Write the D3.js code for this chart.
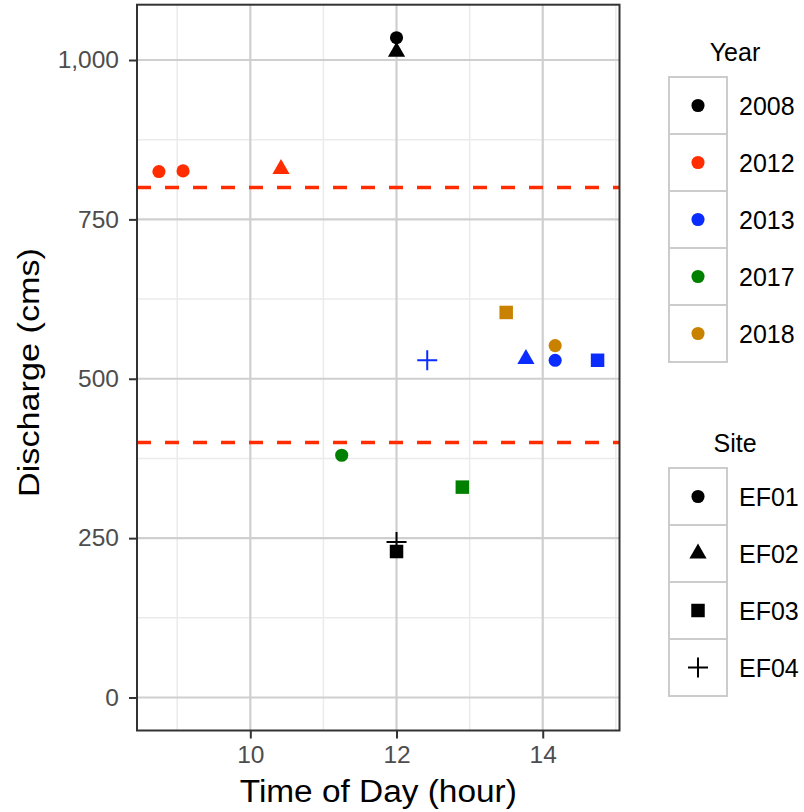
<!DOCTYPE html>
<html>
<head>
<meta charset="utf-8">
<script src="https://cdn.jsdelivr.net/npm/d3@7"></script>
<style>
  body { margin: 0; background: #fff; }
  text { font-family: "Liberation Sans", Arial, sans-serif; }
</style>
</head>
<body>
<svg width="804" height="812"></svg>
<script>
// legend categories
var years = ["2008", "2012", "2013", "2017", "2018"];
var yearColors = ["#000000", "#FF2D00", "#0A2CFF", "#008000", "#C98200"];
var sites = ["EF01", "EF02", "EF03", "EF04"];

// one entry per plotted point
var pointYear = ["2008", "2008", "2008", "2008", "2012", "2012", "2012", "2013", "2013", "2013", "2013", "2017", "2017", "2018", "2018"];
var pointSite = ["EF01", "EF02", "EF03", "EF04", "EF01", "EF01", "EF02", "EF04", "EF02", "EF01", "EF03", "EF01", "EF03", "EF03", "EF01"];
var pointHour = [12.0, 12.0, 12.0, 12.0, 8.75, 9.08, 10.42, 12.42, 13.77, 14.17, 14.75, 11.25, 12.9, 13.5, 14.17];
var pointQ = [1035, 1013, 229, 244, 825, 826, 829, 529, 531, 529, 529, 380, 330, 604, 552];

// reference lines
var hlines = [400, 800];

var xBreaks = [10, 12, 14], xMinor = [9, 11, 13, 15];
var yBreaks = [0, 250, 500, 750, 1000], yMinor = [125, 375, 625, 875];

var points = pointHour.map(function(h, i) {
  return { hour: h, q: pointQ[i], year: pointYear[i], site: pointSite[i] };
});

var svg = d3.select("svg");
var panel = { left: 137, right: 619.5, top: 4.7, bottom: 730.5 };

function expand(ext) {
  var pad = (ext[1] - ext[0]) * 0.05;
  return [ext[0] - pad, ext[1] + pad];
}

var x = d3.scaleLinear()
  .domain(expand(d3.extent(pointHour)))
  .range([panel.left, panel.right]);
var y = d3.scaleLinear()
  .domain(expand([0, d3.max(pointQ)]))
  .range([panel.bottom, panel.top]);

var color = d3.scaleOrdinal().domain(years).range(yearColors);

var plusType = {
  draw: function(ctx, size) {
    var r = Math.sqrt(size) / 2;
    ctx.moveTo(-r, 0); ctx.lineTo(r, 0);
    ctx.moveTo(0, -r); ctx.lineTo(0, r);
  }
};
var shapeType = d3.scaleOrdinal().domain(sites)
  .range([d3.symbolCircle, d3.symbolTriangle, d3.symbolSquare, plusType]);
var shapeSize = d3.scaleOrdinal().domain(sites).range([135, 128, 182, 400]);

function symbolPath(site) {
  return d3.symbol().type(shapeType(site)).size(shapeSize(site))();
}
function styleSymbol(sel, fillOf) {
  sel.attr("d", function(d) { return symbolPath(d.site); })
    .attr("fill", function(d) { return d.site === "EF04" ? "none" : fillOf(d); })
    .attr("stroke", function(d) { return d.site === "EF04" ? fillOf(d) : "none"; })
    .attr("stroke-width", 2);
}

// panel background + grid
svg.append("rect")
  .attr("x", panel.left).attr("y", panel.top)
  .attr("width", panel.right - panel.left).attr("height", panel.bottom - panel.top)
  .attr("fill", "#fff");

var grid = svg.append("g");
grid.selectAll(".xminor").data(xMinor.filter(function(v) { return v <= x.domain()[1]; }))
  .enter().append("line")
  .attr("x1", x).attr("x2", x).attr("y1", panel.top).attr("y2", panel.bottom)
  .attr("stroke", "#EBEBEB").attr("stroke-width", 1.5);
grid.selectAll(".yminor").data(yMinor)
  .enter().append("line")
  .attr("y1", y).attr("y2", y).attr("x1", panel.left).attr("x2", panel.right)
  .attr("stroke", "#EBEBEB").attr("stroke-width", 1.5);
grid.selectAll(".xmajor").data(xBreaks)
  .enter().append("line")
  .attr("x1", x).attr("x2", x).attr("y1", panel.top).attr("y2", panel.bottom)
  .attr("stroke", "#CFCFCF").attr("stroke-width", 2.2);
grid.selectAll(".ymajor").data(yBreaks)
  .enter().append("line")
  .attr("y1", y).attr("y2", y).attr("x1", panel.left).attr("x2", panel.right)
  .attr("stroke", "#CFCFCF").attr("stroke-width", 2.2);

// dashed reference lines
svg.append("g").selectAll("line").data(hlines)
  .enter().append("line")
  .attr("x1", panel.left).attr("x2", panel.right)
  .attr("y1", y).attr("y2", y)
  .attr("stroke", "#FF2D00").attr("stroke-width", 3.5)
  .attr("stroke-dasharray", "14,14");

// points
svg.append("g").selectAll("path").data(points)
  .enter().append("path")
  .attr("transform", function(d) { return "translate(" + x(d.hour) + "," + y(d.q) + ")"; })
  .call(styleSymbol, function(d) { return color(d.year); });

// panel border
svg.append("rect")
  .attr("x", panel.left).attr("y", panel.top)
  .attr("width", panel.right - panel.left).attr("height", panel.bottom - panel.top)
  .attr("fill", "none").attr("stroke", "#333").attr("stroke-width", 2);

// axes
var xAxis = svg.append("g")
  .attr("transform", "translate(0," + panel.bottom + ")")
  .call(d3.axisBottom(x).tickValues(xBreaks).tickSize(8).tickPadding(7).tickFormat(d3.format("d")));
var yAxis = svg.append("g")
  .attr("transform", "translate(" + panel.left + ",0)")
  .call(d3.axisLeft(y).tickValues(yBreaks).tickSize(8).tickPadding(10).tickFormat(d3.format(",")));
[xAxis, yAxis].forEach(function(a) {
  a.select(".domain").remove();
  a.selectAll(".tick line").attr("stroke", "#333").attr("stroke-width", 2);
  a.selectAll(".tick text")
    .attr("fill", "#4D4D4D")
    .style("font-size", "24.5px")
    .style("font-family", "'Liberation Sans', Arial, sans-serif");
});

// axis titles
svg.append("text")
  .attr("x", (panel.left + panel.right) / 2).attr("y", 802)
  .attr("text-anchor", "middle")
  .attr("textLength", 277).attr("lengthAdjust", "spacingAndGlyphs")
  .style("font-size", "31px")
  .text("Time of Day (hour)");
svg.append("text")
  .attr("transform", "translate(39,372.5) rotate(-90)")
  .attr("text-anchor", "middle")
  .attr("textLength", 249).attr("lengthAdjust", "spacingAndGlyphs")
  .style("font-size", "29px")
  .text("Discharge (cms)");

// legends
function legend(title, top, items, fillOf, siteOf) {
  var g = svg.append("g");
  var keyW = 58, keyH = 57, left = 669;
  g.append("text")
    .attr("x", 735).attr("y", top - 16)
    .attr("text-anchor", "middle")
    .style("font-size", "25px")
    .text(title);
  var row = g.selectAll(".row").data(items).enter().append("g")
    .attr("transform", function(d, i) { return "translate(" + left + "," + (top + i * keyH) + ")"; });
  row.append("rect")
    .attr("width", keyW).attr("height", keyH)
    .attr("fill", "#fff").attr("stroke", "#CCCCCC").attr("stroke-width", 2);
  row.append("path")
    .datum(function(d) { return { site: siteOf(d), year: d }; })
    .attr("transform", "translate(" + keyW / 2 + "," + keyH / 2 + ")")
    .call(styleSymbol, function(d) { return fillOf(d.year); });
  row.append("text")
    .attr("x", 70).attr("y", keyH / 2).attr("dy", "0.36em")
    .style("font-size", "25px")
    .text(function(d) { return d; });
}

legend("Year", 77, years, function(v) { return color(v); }, function() { return "EF01"; });
legend("Site", 468, sites, function() { return "#000"; }, function(v) { return v; });
</script>
</body>
</html>
